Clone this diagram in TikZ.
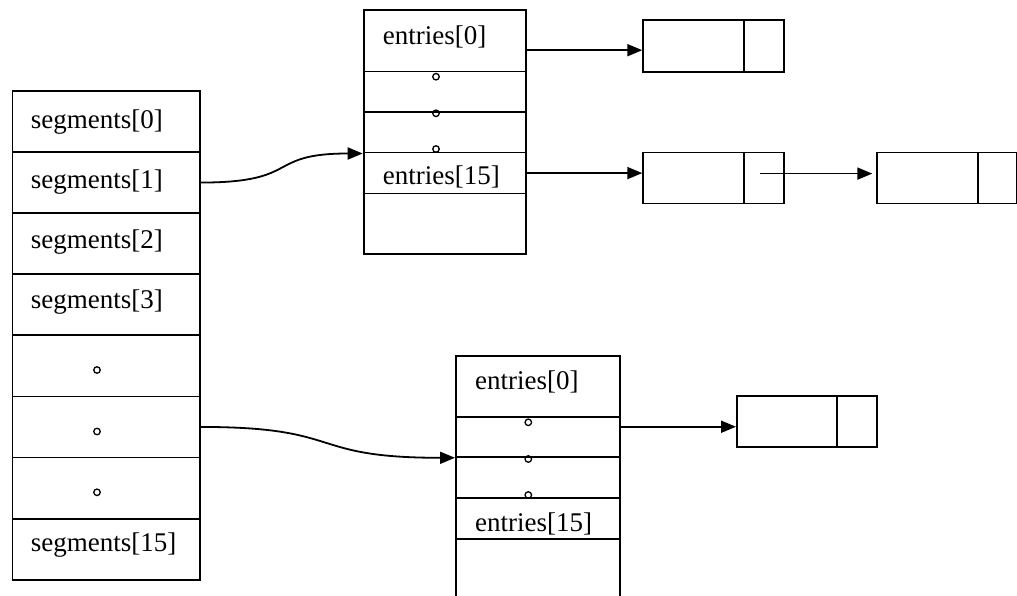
\documentclass[tikz,border=0pt]{standalone}
\usepackage{fontspec}
\setmainfont{Liberation Serif}
\usetikzlibrary{arrows.meta}
\begin{document}
\begin{tikzpicture}[x=1pt,y=-1pt, line width=1.8pt,
  cell/.style={draw, inner sep=0pt, anchor=north west},
  lbl/.style={anchor=west, inner sep=0pt, font=\fontsize{27}{32}\selectfont},
  dot/.style={draw, circle, inner sep=0pt, minimum size=6.5pt, line width=1.3pt},
  arr/.style={-{Triangle[length=15pt,width=12pt]}}]
\useasboundingbox (0,0) rectangle (1017,596);
\begin{scope}
\clip (0,0) rectangle (1017,596);
% segments column
\foreach \i in {0,...,7}
  \node[cell, minimum width=187.5pt, minimum height=61.1pt] (s\i) at (11.5,{90+61.1*\i}) {};
\node[lbl] (ls0) at (30,122) {segments[0]};
\node[lbl] (ls1) at (30,182) {segments[1]};
\node[lbl] (ls2) at (30,242) {segments[2]};
\node[lbl] (ls3) at (30,302) {segments[3]};
\node[lbl] (ls15) at (30,545) {segments[15]};
\node[dot] (sd1) at (97,370) {};
\node[dot] (sd2) at (97,431.5) {};
\node[dot] (sd3) at (97,492.3) {};
% top entries table
\node[cell, minimum width=162.3pt, minimum height=61.2pt] (t0) at (362.7,9.5) {};
\node[cell, minimum width=162.3pt, minimum height=40.3pt] (t1) at (362.7,70.7) {};
\node[cell, minimum width=162.3pt, minimum height=40.7pt] (t2) at (362.7,111) {};
\node[cell, minimum width=162.3pt, minimum height=41pt] (t3) at (362.7,151.7) {};
\node[cell, minimum width=162.3pt, minimum height=60pt] (t4) at (362.7,192.7) {};
\node[lbl] (lt0) at (382,37) {entries[0]};
\node[lbl] (lt15) at (382,177) {entries[15]};
\node[dot] (td1) at (436,76.7) {};
\node[dot] (td2) at (436,113.3) {};
\node[dot] (td3) at (436,149) {};
% bottom entries table
\node[cell, minimum width=164.3pt, minimum height=60.7pt] (b0) at (455,355) {};
\node[cell, minimum width=164.3pt, minimum height=40.3pt] (b1) at (455,415.7) {};
\node[cell, minimum width=164.3pt, minimum height=41pt] (b2) at (455,456) {};
\node[cell, minimum width=164.3pt, minimum height=40.7pt] (b3) at (455,497) {};
\node[cell, minimum width=164.3pt, minimum height=70pt] (b4) at (455,537.7) {};
\node[lbl] (lb0) at (474.3,382) {entries[0]};
\node[lbl] (lb15) at (474.3,523.5) {entries[15]};
\node[dot] (bd1) at (528.3,422.3) {};
\node[dot] (bd2) at (528.3,459) {};
\node[dot] (bd3) at (528.3,495) {};
% list nodes
\node[cell, minimum width=100.4pt, minimum height=51.7pt] (n1a) at (642.3,19.3) {};
\node[cell, minimum width=40pt, minimum height=51.7pt] (n1b) at (742.7,19.3) {};
\node[cell, minimum width=100.4pt, minimum height=51pt] (n2a) at (642.3,151.7) {};
\node[cell, minimum width=40pt, minimum height=51pt] (n2b) at (742.7,151.7) {};
\node[cell, minimum width=101pt, minimum height=51pt] (n3a) at (875.7,151.7) {};
\node[cell, minimum width=39.3pt, minimum height=51pt] (n3b) at (976.7,151.7) {};
\node[cell, minimum width=100pt, minimum height=50.7pt] (n4a) at (736,395) {};
\node[cell, minimum width=40pt, minimum height=50.7pt] (n4b) at (836,395) {};
% connectors
\draw[arr] (s1.east) .. controls +(101,0) and +(-97.7,0) .. (t2.south west);
\draw[arr] (s5.east) .. controls +(146,0) and +(-150,0) .. (b1.south west);
\draw[arr] ([yshift=-9.2pt]t0.east) -- ([yshift=-9.2pt]t0.east -| n1a.west);
\draw[arr] (t3.east) -- (t3.east -| n2a.west);
\draw[arr] ([xshift=-3.4pt,yshift=4.5pt]n2b.center) -- ([xshift=-3.4pt,yshift=4.5pt]n2b.center -| n3a.west);
\draw[arr] ([yshift=10pt]b1.east) -- ([yshift=10pt]b1.east -| n4a.west);
\end{scope}
\end{tikzpicture}
\end{document}
